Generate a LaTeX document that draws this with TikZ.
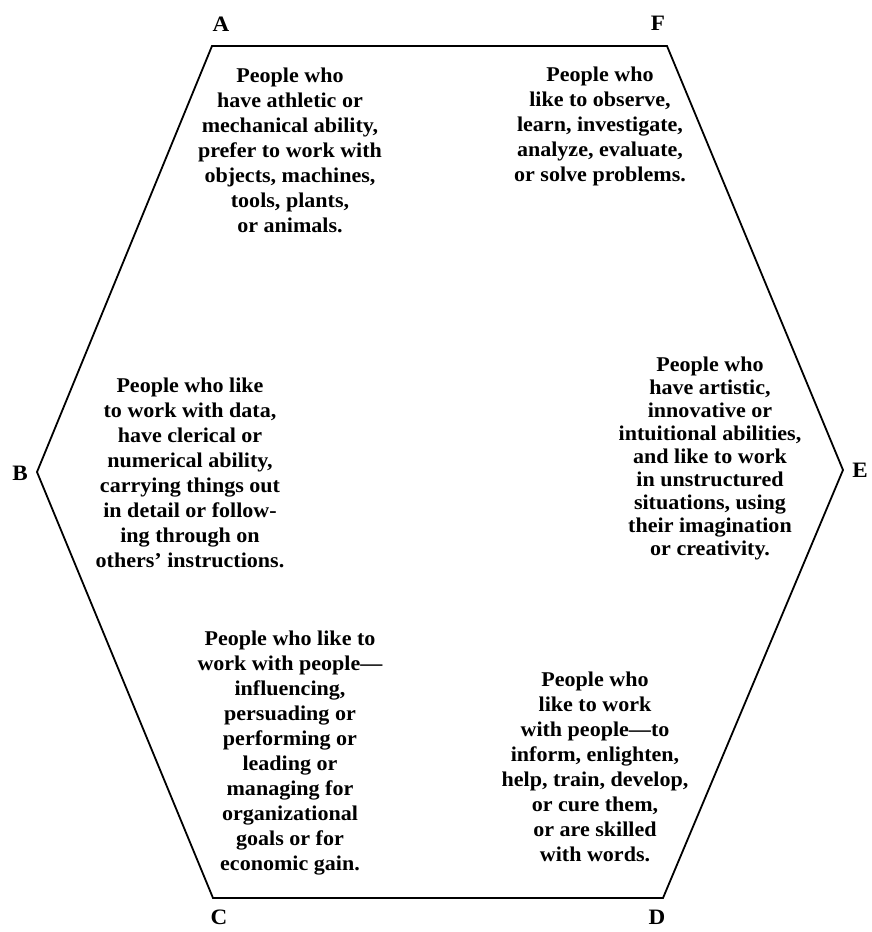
\documentclass[tikz,border=0pt]{standalone}
\usepackage{fontspec}
\setmainfont{Liberation Serif}[FakeStretch=1.05]
\begin{document}
\begin{tikzpicture}[x=1pt,y=-1pt,
  blurb/.style={font=\bfseries\fontsize{21}{25}\selectfont, align=center, inner sep=0pt},
  blurbtight/.style={font=\bfseries\fontsize{21}{23}\selectfont, align=center, inner sep=0pt},
  cornerlbl/.style={font=\bfseries\fontsize{22}{25}\selectfont, inner sep=0pt},
  hexline/.style={line width=1.8pt, line join=miter}]
\useasboundingbox (0,0) rectangle (871,932);
% hexagon corners
\coordinate (A) at (212,46);
\coordinate (F) at (667,46);
\coordinate (E) at (843,470);
\coordinate (D) at (663,898);
\coordinate (C) at (213,898);
\coordinate (B) at (37,472);
\draw[hexline] (A) -- (F) -- (E) -- (D) -- (C) -- (B) -- cycle;
% corner labels
\node[cornerlbl] (lA) at (221,24) {A};
\node[cornerlbl] (lF) at (658,23) {F};
\node[cornerlbl] (lE) at (860,470) {E};
\node[cornerlbl] (lD) at (657,917) {D};
\node[cornerlbl] (lC) at (219,917) {C};
\node[cornerlbl] (lB) at (20,473) {B};
% texts
\node[blurb] (tA) at (290,150) {People who\\have athletic or\\mechanical ability,\\prefer to work with\\objects, machines,\\tools, plants,\\or animals.};
\node[blurb] (tF) at (600,126) {People who\\like to observe,\\learn, investigate,\\analyze, evaluate,\\or solve problems.};
\node[blurb] (tB) at (190,473) {People who like\\to work with data,\\have clerical or\\numerical ability,\\carrying things out\\in detail or follow-\\ing through on\\others' instructions.};
\node[blurbtight] (tE) at (710,458) {People who\\have artistic,\\innovative or\\intuitional abilities,\\and like to work\\in unstructured\\situations, using\\their imagination\\or creativity.};
\node[blurb] (tC) at (290,753) {People who like to\\work with people---\\influencing,\\persuading or\\performing or\\leading or\\managing for\\organizational\\goals or for\\economic gain.};
\node[blurb] (tD) at (595,767) {People who\\like to work\\with people---to\\inform, enlighten,\\help, train, develop,\\or cure them,\\or are skilled\\with words.};
\end{tikzpicture}
\end{document}
